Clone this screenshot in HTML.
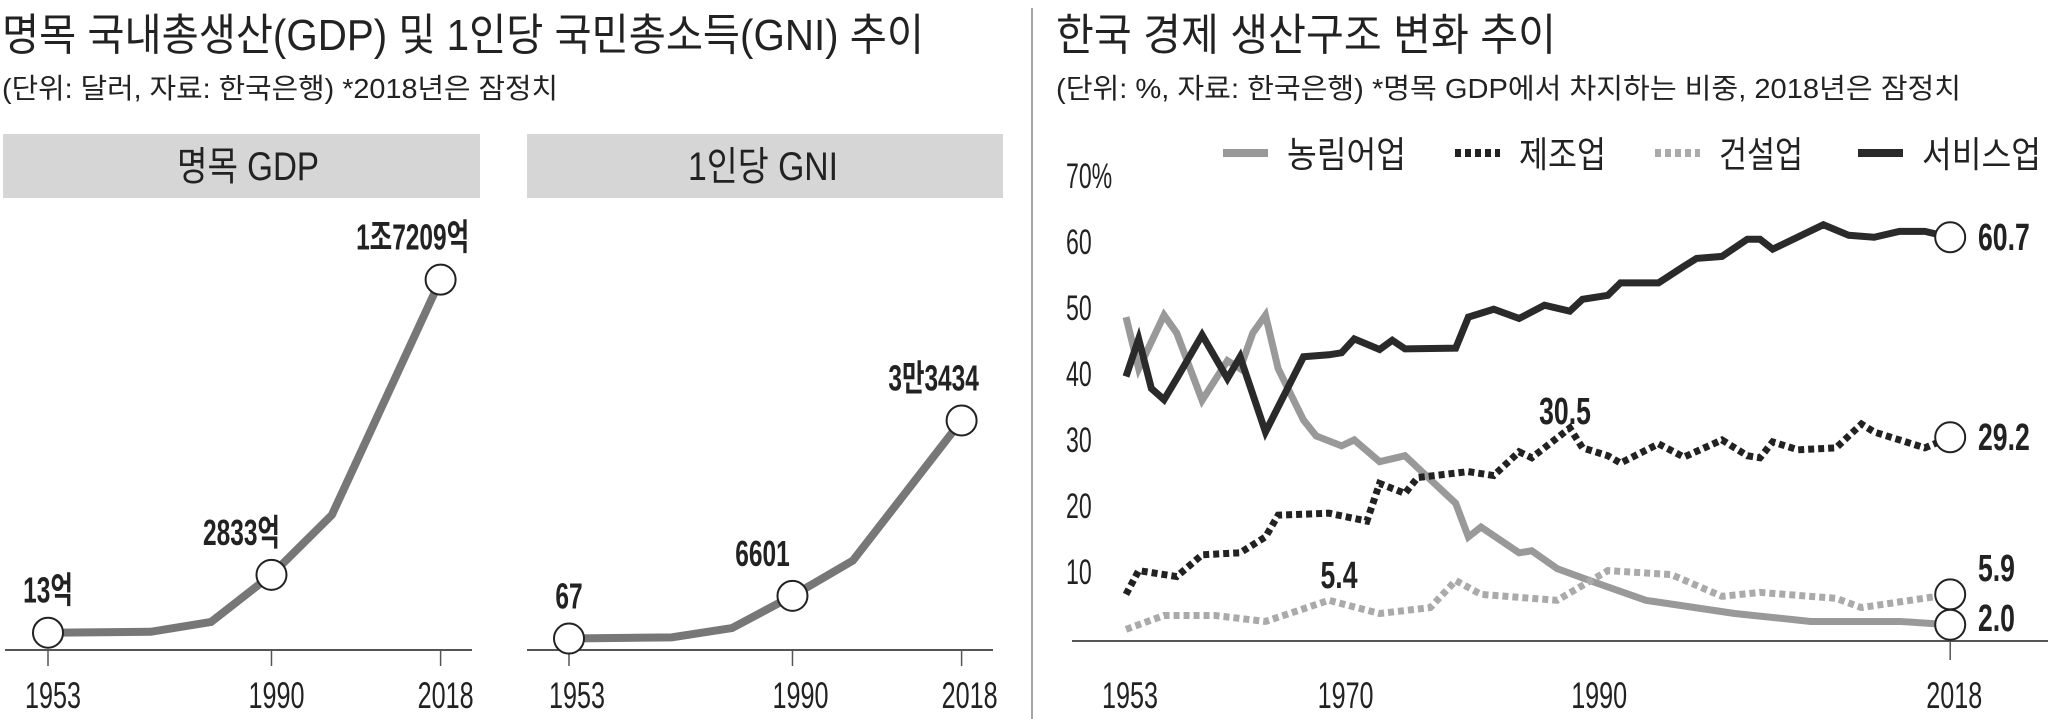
<!DOCTYPE html>
<html><head><meta charset="utf-8">
<style>
html,body{margin:0;padding:0;background:#fff;}
svg{display:block;}
text{font-family:"Liberation Sans","Noto Sans CJK KR",sans-serif;fill:#222;}
</style></head>
<body>
<svg id="root" width="2048" height="719" viewBox="0 0 2048 719" xmlns="http://www.w3.org/2000/svg">
  <text x="2" y="50" font-size="44" textLength="922" lengthAdjust="spacingAndGlyphs">명목 국내총생산(GDP) 및 1인당 국민총소득(GNI) 추이</text>
  <text x="2" y="98" font-size="28" textLength="556" lengthAdjust="spacingAndGlyphs" fill="#333">(단위: 달러, 자료: 한국은행) *2018년은 잠정치</text>
  <text x="1056" y="50" font-size="44" textLength="500" lengthAdjust="spacingAndGlyphs">한국 경제 생산구조 변화 추이</text>
  <text x="1056" y="98" font-size="28" textLength="905" lengthAdjust="spacingAndGlyphs" fill="#333">(단위: %, 자료: 한국은행) *명목 GDP에서 차지하는 비중, 2018년은 잠정치</text>
  <line x1="1032" y1="8" x2="1032" y2="719" stroke="#888" stroke-width="1.5"/>
  <rect x="3" y="134" width="477" height="64" fill="#d6d6d6"/>
  <text x="248" y="180" font-size="40" text-anchor="middle" textLength="142" lengthAdjust="spacingAndGlyphs">명목 GDP</text>
  <rect x="527" y="134" width="476" height="64" fill="#d6d6d6"/>
  <text x="763" y="180" font-size="40" text-anchor="middle" textLength="150" lengthAdjust="spacingAndGlyphs">1인당 GNI</text>
  <g id="gdp"></g>
  <g id="gni"></g>
  <g id="struct"></g>
</svg>
<script>
// ---- GDP data (억 달러) ----
const gdpYears = [1953, 1970, 1980, 1990, 2000, 2018];
const gdpValues = [13, 60, 540, 2833, 5750, 17209];
const gdpLabelYears = [1953, 1990, 2018];
const gdpLabels = ["13억", "2833억", "1조7209억"];
// ---- GNI data (달러) ----
const gniYears = [1953, 1970, 1980, 1990, 2000, 2018];
const gniValues = [67, 255, 1680, 6601, 12000, 33434];
const gniLabelYears = [1953, 1990, 2018];
const gniLabels = ["67", "6601", "3만3434"];
const tickYears = [1953, 1990, 2018];
// ---- Structure chart data (%) ----
const agriYears = [1953,1954,1956,1957,1959,1961,1962,1963,1964,1965,1967,1968,1970,1971,1973,1975,1977,1979,1980,1981,1984,1985,1987,1990,1994,2001,2007,2014,2018];
const agriValues = [48.6,40.8,48.9,46.2,36,42,40.8,46.2,48.9,40.8,33,30.6,29.1,30,26.7,27.6,24,20.4,15.3,16.8,12.9,13.2,10.5,8.4,5.7,3.7,2.5,2.5,2.0];
const mfgYears = [1953,1954,1957,1959,1962,1964,1965,1969,1972,1973,1975,1976,1980,1982,1984,1985,1988,1989,1991,1992,1995,1997,2000,2002,2003,2004,2006,2009,2011,2012,2016,2018];
const mfgValues = [6.6,10.2,9.3,12.6,12.9,15.3,18.6,18.9,17.7,23.4,21.9,24.3,25.2,24.6,28.2,27.3,31.8,28.8,27.6,26.5,29.4,27.4,30,27.6,27.3,29.7,28.5,28.8,32.4,31.2,28.8,30.4];
const conYears = [1953,1956,1960,1964,1969,1973,1977,1979,1981,1987,1991,1996,2000,2003,2009,2011,2018];
const conValues = [1.3,3.4,3.4,2.5,5.7,3.7,4.6,8.7,6.6,5.7,10.2,9.6,6.3,6.9,6.0,4.6,6.6];
const svcYears = [1953,1954,1955,1956,1957,1959,1960,1961,1962,1964,1967,1969,1970,1971,1973,1974,1975,1979,1980,1982,1984,1986,1988,1989,1991,1992,1995,1997,1998,2000,2002,2003,2004,2008,2010,2012,2014,2016,2018];
const svcValues = [39.6,45.3,37.8,36.1,39.3,45.9,42.6,39.3,42.6,31.2,42.6,42.9,43.2,45.3,43.7,45.1,43.8,43.9,48.6,49.8,48.4,50.4,49.5,51.3,51.9,53.8,53.8,56.3,57.5,57.8,60.4,60.4,58.9,62.6,61,60.7,61.6,61.6,60.7];
const yTicks = [10, 20, 30, 40, 50, 60, 70];
const xTicks = [1953, 1970, 1990, 2018];
const endLabels = ["2.0", "29.2", "5.9", "60.7"];
const peakLabels = ["30.5", "5.4"];

const NS = "http://www.w3.org/2000/svg";
function mk(tag, attrs, parent){const e=document.createElementNS(NS,tag);for(const k in attrs)e.setAttribute(k,attrs[k]);parent.appendChild(e);return e;}
function txt(parent,x,y,s,size,anchor,weight,sx){
  const t=mk('text',{transform:`translate(${x} ${y}) scale(${sx||0.8} 1)`,'font-size':size,'text-anchor':anchor||'start','font-weight':weight||'normal'},parent);
  t.textContent=s;return t;}
function pts(xs,ys,fx,fy){return xs.map((v,i)=>fx(v)+','+fy(ys[i])).join(' ');}

function smallChart(gid,years,values,labelYears,labels,x0,zeroY,perPx,xLblOff,base0,base1,prefix){
  const g=document.getElementById(gid);
  const fx=y=>x0+(y-1953)*6.04;
  const fy=v=>zeroY-v/perPx;
  let e=mk('line',{x1:base0,y1:650,x2:base1,y2:650,stroke:'#555','stroke-width':2},g);
  
  
  tickYears.forEach(yr=>{
    const t=mk('line',{x1:fx(yr),y1:650,x2:fx(yr),y2:666,stroke:'#555','stroke-width':1.5},g);
    
    
    const l=txt(g,fx(yr)+xLblOff,708,String(yr),37,'middle','normal',0.68);
    
    
  });
  const line=mk('polyline',{points:pts(years,values,fx,fy),fill:'none',stroke:'#777','stroke-width':8,'stroke-linejoin':'miter'},g);
  
  
  labelYears.forEach((yr,i)=>{
    const v=values[years.indexOf(yr)];
    const c=mk('circle',{cx:fx(yr),cy:fy(v),r:15,fill:'#fff',stroke:'#222','stroke-width':2},g);
    
    
    const l=txt(g,fx(yr)-(i===0?0:i===1?30:28),fy(v)-30,labels[i],36,'middle','bold',0.68);
    
    
  });
}
smallChart('gdp',gdpYears,gdpValues,gdpLabelYears,gdpLabels,48,633,48.7,5,5,472,'gdp');
smallChart('gni',gniYears,gniValues,gniLabelYears,gniLabels,569,639,153,8,527,993,'gni');

(function(){
  const g=document.getElementById('struct');
  const fx=yr=>1126+(yr-1953)*12.68;
  const fy=v=>100+(1361-16.7*v)/2.53;
  let e=mk('line',{x1:1072,y1:641,x2:2048,y2:641,stroke:'#555','stroke-width':2},g);
  
  
  yTicks.forEach(v=>{
    const l=txt(g,1066,fy(v)+12,v===70?'70%':String(v),35,'start','normal',0.66);
    
    
  });
  xTicks.forEach(yr=>{
    const l=txt(g,fx(yr)+4,708,String(yr),37,'middle','normal',0.68);
    
    
  });
  const t=mk('line',{x1:fx(2018),y1:641,x2:fx(2018),y2:660,stroke:'#555','stroke-width':1.5},g);
  
  
  const series=[
    {n:'agriculture',ys:agriYears,vs:agriValues,st:{stroke:'#999','stroke-width':7}},
    {n:'construction',ys:conYears,vs:conValues,st:{stroke:'#aaa','stroke-width':7,'stroke-dasharray':'6 4'}},
    {n:'manufacturing',ys:mfgYears,vs:mfgValues,st:{stroke:'#222','stroke-width':7,'stroke-dasharray':'6 4'}},
    {n:'services',ys:svcYears,vs:svcValues,st:{stroke:'#2a2a2a','stroke-width':7}}
  ];
  series.forEach(s=>{
    const p=mk('polyline',Object.assign({points:pts(s.ys,s.vs,fx,fy),fill:'none','stroke-linejoin':'miter'},s.st),g);
    
    
  });
  const ends=[['agriculture',agriValues],['manufacturing',mfgValues],['construction',conValues],['services',svcValues]];
  ends.forEach((d,i)=>{
    const v=d[1][d[1].length-1];
    const c=mk('circle',{cx:fx(2018),cy:fy(v),r:15,fill:'#fff',stroke:'#222','stroke-width':2},g);
    
    
  });
  const lblY=[618,437,568,237];
  ends.forEach((d,i)=>{
    const l=txt(g,1978,lblY[i]+13,endLabels[i],38,'start','bold',0.7);
    
    
  });
  const pk1=txt(g,1565,424,peakLabels[0],38,'middle','bold',0.7);
  
  
  const pk2=txt(g,1339,588,peakLabels[1],38,'middle','bold',0.7);
  
  
  const leg=[['농림어업',1223,{stroke:'#999'}],['제조업',1455,{stroke:'#222','stroke-dasharray':'6 4'}],['건설업',1655,{stroke:'#aaa','stroke-dasharray':'6 4'}],['서비스업',1858,{stroke:'#2a2a2a'}]];
  const legNames=['agriculture','manufacturing','construction','services'];
  const legW=[119,87,84,119];
  leg.forEach((d,i)=>{
    const lg=mk('g',{},g);
    
    
    mk('line',Object.assign({x1:d[1],y1:153,x2:d[1]+45,y2:153,'stroke-width':8},d[2]),lg);
    const tt=mk('text',{x:d[1]+64,y:167,'font-size':36,textLength:legW[i],lengthAdjust:'spacingAndGlyphs'},lg);
    tt.textContent=d[0];
  });
})();
</script>
</body></html>
